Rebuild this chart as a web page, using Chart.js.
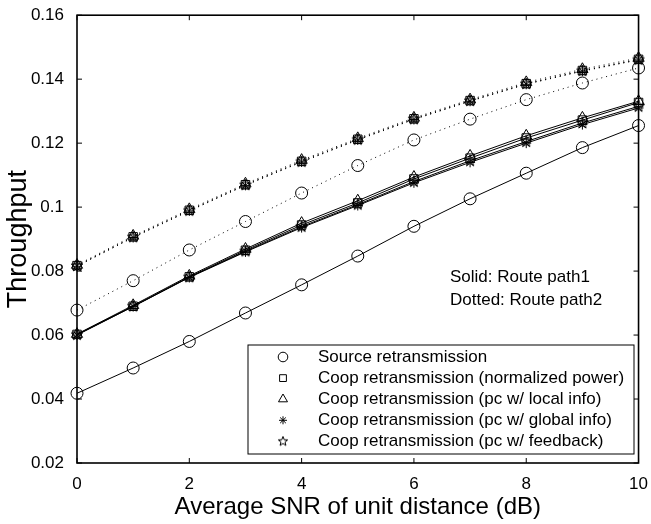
<!DOCTYPE html>
<html>
<head>
<meta charset="utf-8">
<script src="https://cdn.jsdelivr.net/npm/chart.js@4/dist/chart.umd.min.js"></script>
<style>
    html, body { margin: 0; padding: 0; background: #fff; }
    #wrap { width: 651px; height: 524px; }
</style>
</head>
<body>
<div id="wrap"><canvas id="tp_chart" width="651" height="524"></canvas></div>
<script>
// x axis: average SNR of unit distance (dB)
const snr = [0, 1, 2, 3, 4, 5, 6, 7, 8, 9, 10];
const yTicks = [0.02, 0.04, 0.06, 0.08, 0.1, 0.12, 0.14, 0.16];
const xTicks = [0, 2, 4, 6, 8, 10];

const seriesNames = [
    "Source retransmission",
    "Coop retransmission (normalized power)",
    "Coop retransmission (pc w/ local info)",
    "Coop retransmission (pc w/ global info)",
    "Coop retransmission (pc w/ feedback)",
];

// route path 1 (solid)
const srcPath1 = [0.0418, 0.0497, 0.0580, 0.0669, 0.0757, 0.0847, 0.0940, 0.1026, 0.1106, 0.1186, 0.1255];
const normPath1 = [0.0602, 0.0690, 0.0782, 0.0865, 0.0944, 0.1013, 0.1088, 0.1153, 0.1216, 0.1272, 0.1327];
const localPath1 = [0.0603, 0.0693, 0.0785, 0.0869, 0.0950, 0.1020, 0.1094, 0.1160, 0.1223, 0.1279, 0.1331];
const globalPath1 = [0.0600, 0.0689, 0.0780, 0.0860, 0.0936, 0.1005, 0.1076, 0.1140, 0.1200, 0.1258, 0.1310];
const fbPath1 = [0.0601, 0.0690, 0.0781, 0.0862, 0.0939, 0.1008, 0.1080, 0.1145, 0.1205, 0.1263, 0.1315];

// route path 2 (dotted)
const srcPath2 = [0.0678, 0.0770, 0.0866, 0.0955, 0.1044, 0.1130, 0.1210, 0.1275, 0.1336, 0.1388, 0.1435];
const normPath2 = [0.0817, 0.0907, 0.0990, 0.1070, 0.1143, 0.1212, 0.1276, 0.1333, 0.1386, 0.1427, 0.1462];
const localPath2 = [0.0819, 0.0910, 0.0993, 0.1073, 0.1147, 0.1215, 0.1279, 0.1336, 0.1390, 0.1431, 0.1466];
const globalPath2 = [0.0815, 0.0905, 0.0988, 0.1068, 0.1141, 0.1210, 0.1274, 0.1331, 0.1384, 0.1425, 0.1460];
const fbPath2 = [0.0816, 0.0906, 0.0989, 0.1069, 0.1142, 0.1211, 0.1275, 0.1332, 0.1385, 0.1426, 0.1461];

const FONT = "'Liberation Sans', Arial, Helvetica, sans-serif";

// five-pointed open star, chart.js has no pentagram point style
function makeStar(r) {
    const size = Math.ceil(r * 2 + 2);
    const c = document.createElement("canvas");
    c.width = size;
    c.height = size;
    const ctx = c.getContext("2d");
    ctx.strokeStyle = "#000";
    ctx.lineWidth = 1;
    ctx.beginPath();
    for (let i = 0; i < 10; i++) {
        const rad = i % 2 === 0 ? r : r * 0.42;
        const a = -Math.PI / 2 + (i * Math.PI) / 5;
        const px = size / 2 + rad * Math.cos(a);
        const py = size / 2 + rad * Math.sin(a);
        if (i === 0) ctx.moveTo(px, py);
        else ctx.lineTo(px, py);
    }
    ctx.closePath();
    ctx.stroke();
    return c;
}
const starImg = makeStar(6);
const starSmall = makeStar(5);

const markers = ["circle", "rect", "triangle", "star", starImg];
const legendMarkers = ["circle", "rect", "triangle", "star", starSmall];
const markerRadius = [6, 6, 6.5, 5, 6];
const path1 = [srcPath1, normPath1, localPath1, globalPath1, fbPath1];
const path2 = [srcPath2, normPath2, localPath2, globalPath2, fbPath2];

function makeDataset(values, idx, dotted) {
    return {
        label: seriesNames[idx],
        data: values,
        borderColor: "#000",
        backgroundColor: "rgba(0,0,0,0)",
        borderWidth: 1,
        borderDash: dotted ? [1, 4] : [],
        pointStyle: markers[idx],
        pointRadius: markerRadius[idx],
        pointBorderColor: "#000",
        pointBackgroundColor: "rgba(0,0,0,0)",
        pointBorderWidth: 1,
        tension: 0,
        clip: false,
    };
}

const datasets = [];
path1.forEach((vals, i) => datasets.push(makeDataset(vals, i, false)));
path2.forEach((vals, i) => datasets.push(makeDataset(vals, i, true)));

// frame, inward ticks on all sides, legend box and route note
const framePlugin = {
    id: "matlabFrame",
    afterDatasetsDraw(chart) {
        const ctx = chart.ctx;
        const area = chart.chartArea;
        const xs = chart.scales.x;
        const ys = chart.scales.y;
        ctx.save();
        ctx.strokeStyle = "#000";
        ctx.lineWidth = 1;
        ctx.setLineDash([]);
        const tl = 5;
        xTicks.forEach((v) => {
            const px = xs.getPixelForValue(v);
            ctx.beginPath();
            ctx.moveTo(px, area.bottom);
            ctx.lineTo(px, area.bottom - tl);
            ctx.moveTo(px, area.top);
            ctx.lineTo(px, area.top + tl);
            ctx.stroke();
        });
        yTicks.forEach((v) => {
            const py = ys.getPixelForValue(v);
            ctx.beginPath();
            ctx.moveTo(area.left, py);
            ctx.lineTo(area.left + tl, py);
            ctx.moveTo(area.right, py);
            ctx.lineTo(area.right - tl, py);
            ctx.stroke();
        });
        ctx.lineWidth = 1.6;
        ctx.strokeRect(area.left, area.top, area.right - area.left, area.bottom - area.top);

        // route note
        ctx.fillStyle = "#000";
        ctx.font = "17px " + FONT;
        ctx.textAlign = "left";
        ctx.textBaseline = "middle";
        ctx.fillText("Solid: Route path1", 450, 277);
        ctx.fillText("Dotted: Route path2", 450, 300);

        // legend
        const lx = 248, ly = 345, lw = 386, lh = 109;
        ctx.fillStyle = "#fff";
        ctx.fillRect(lx, ly, lw, lh);
        ctx.lineWidth = 1;
        ctx.strokeRect(lx, ly, lw, lh);
        seriesNames.forEach((name, i) => {
            const ry = ly + 12 + i * 21.1;
            ctx.lineWidth = 1;
            ctx.strokeStyle = "#000";
            ctx.fillStyle = "rgba(0,0,0,0)";
            Chart.helpers.drawPoint(ctx, {
                pointStyle: legendMarkers[i],
                radius: markerRadius[i] * 0.8,
                rotation: 0,
                borderWidth: 1,
            }, 283, ry);
            ctx.fillStyle = "#000";
            ctx.fillText(name, 318, ry);
        });
        ctx.restore();
    },
};

new Chart(document.getElementById("tp_chart").getContext("2d"), {
    type: "line",
    data: { labels: snr, datasets: datasets },
    plugins: [framePlugin],
    options: {
        responsive: false,
        animation: false,
        layout: { padding: { top: 12, right: 10, left: 0, bottom: 0 } },
        plugins: {
            legend: { display: false },
            tooltip: { enabled: false },
        },
        scales: {
            x: {
                type: "linear",
                min: 0,
                max: 10,
                afterFit: (scale) => { scale.height = 61; },
                afterBuildTicks: (scale) => { scale.ticks = xTicks.map((v) => ({ value: v })); },
                grid: { display: false },
                border: { display: false },
                ticks: { color: "#000", font: { family: FONT, size: 17 }, padding: 3, maxRotation: 0 },
                title: {
                    display: true,
                    text: "Average SNR of unit distance (dB)",
                    color: "#000",
                    font: { family: FONT, size: 24 },
                    padding: { top: 0, bottom: 2 },
                },
            },
            y: {
                type: "linear",
                min: 0.02,
                max: 0.16,
                afterFit: (scale) => { scale.width = 77; },
                afterBuildTicks: (scale) => { scale.ticks = yTicks.map((v) => ({ value: v })); },
                grid: { display: false },
                border: { display: false },
                ticks: {
                    color: "#000",
                    font: { family: FONT, size: 17 },
                    padding: 5,
                    callback: (v) => String(+v.toFixed(2)),
                },
                title: {
                    display: true,
                    text: "Throughput",
                    color: "#000",
                    font: { family: FONT, size: 27 },
                    padding: { top: 2, bottom: 0 },
                },
            },
        },
    },
});
</script>
</body>
</html>
